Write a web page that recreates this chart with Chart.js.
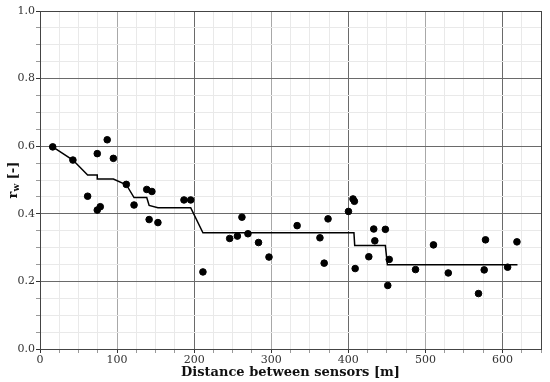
<!DOCTYPE html>
<html>
<head>
<meta charset="utf-8">
<script src="https://cdn.jsdelivr.net/npm/chart.js@4"></script>
<style>
html,body{margin:0;padding:0;background:#fff;}
#wrap{width:550px;height:382px;position:relative;}
</style>
</head>
<body>
<div id="wrap"><canvas id="c" width="550" height="382"></canvas></div>
<script>
// Measured points: distance between sensors [m] and r_w [-]
const distX = [16.5,42.7,61.8,74.3,74.3,78.2,87.2,95.2,112,122,138.5,141.6,145.2,153,186.8,195.5,211.4,246.1,256.1,262,269.8,283.5,297.1,333.6,363.2,368.7,373.7,400.2,406.1,407.9,408.9,426.6,433,434.4,448.1,453.1,451.2,487.2,510.5,529.7,568.9,578,576.3,606.7,618.8];
const rwValues = [0.598,0.559,0.452,0.578,0.411,0.421,0.619,0.564,0.487,0.426,0.472,0.383,0.466,0.374,0.441,0.441,0.228,0.327,0.334,0.390,0.341,0.315,0.272,0.365,0.329,0.254,0.385,0.407,0.444,0.437,0.238,0.273,0.355,0.320,0.354,0.265,0.188,0.235,0.308,0.225,0.164,0.323,0.234,0.242,0.317];
// Trend (step) line
const trendX = [16.5,42.7,61.8,74.3,74.3,95.2,112,122,138.5,141.6,153,195.5,211.4,407.3,408.3,448.1,450.7,619.5];
const trendY = [0.598,0.559,0.515,0.515,0.503,0.503,0.486,0.448,0.448,0.425,0.418,0.418,0.344,0.344,0.306,0.306,0.249,0.249];
const xTickLabels = [0,100,200,300,400,500,600];
const yTickLabels = [0.0,0.2,0.4,0.6,0.8,1.0];

const serif = "'DejaVu Serif', serif";
const near = (v, m) => Math.abs(v / m - Math.round(v / m)) < 1e-6;

const framePlugin = {
  id: 'frame',
  afterDraw(chart) {
    const {ctx, chartArea: a} = chart;
    ctx.save();
    ctx.strokeStyle = '#444';
    ctx.lineWidth = 1;
    ctx.strokeRect(Math.round(a.left) + 0.5, Math.round(a.top) + 0.5, Math.round(a.right - a.left), Math.round(a.bottom - a.top));
    // y axis title: r_w [-]
    ctx.translate(14, (a.top + a.bottom) / 2);
    ctx.rotate(-Math.PI / 2);
    ctx.fillStyle = '#111';
    ctx.textBaseline = 'middle';
    const f1 = "bold 13px " + serif, f2 = "bold 9px " + serif;
    ctx.font = f1; const wr = ctx.measureText('r').width; const wt = ctx.measureText(' [-]').width;
    ctx.font = f2; const ww = ctx.measureText('w').width;
    let x = -(wr + ww + wt) / 2;
    ctx.font = f1; ctx.fillText('r', x, 0); x += wr;
    ctx.font = f2; ctx.fillText('w', x, 3); x += ww;
    ctx.font = f1; ctx.fillText(' [-]', x, 0);
    ctx.restore();
  }
};

new Chart(document.getElementById('c'), {
  type: 'scatter',
  data: {
    datasets: [
      {
        type: 'line',
        data: trendX.map((x, i) => ({x, y: trendY[i]})),
        borderColor: '#000', borderWidth: 1.5, pointRadius: 0, tension: 0, fill: false, order: 1
      },
      {
        data: distX.map((x, i) => ({x, y: rwValues[i]})),
        backgroundColor: '#000', borderColor: '#000', pointRadius: 3.3, pointHoverRadius: 3.3, order: 0
      }
    ]
  },
  plugins: [framePlugin],
  options: {
    responsive: false, animation: false, devicePixelRatio: 1,
    layout: {padding: {top: 11, right: 9, left: 0, bottom: 0}},
    plugins: {legend: {display: false}, tooltip: {enabled: false}},
    scales: {
      x: {
        type: 'linear', min: 0, max: 650,
        afterBuildTicks(s) { const t = []; for (let v = 0; v <= 650; v += 25) t.push({value: v}); s.ticks = t; },
        ticks: {
          autoSkip: false, maxRotation: 0, padding: 1, color: '#333',
          font: {family: serif, size: 11},
          callback: v => (near(v, 100) ? String(v) : '')
        },
        grid: {
          color: c => { const v = c.tick ? c.tick.value : 0; return near(v, 200) ? '#6a6a6a' : near(v, 100) ? '#a8a8a8' : '#e9e9e9'; },
          tickColor: c => { const v = c.tick ? c.tick.value : 0; return near(v, 100) ? '#333' : '#999'; },
          tickLength: 4, lineWidth: 1
        },
        border: {display: true, color: '#444'},
        title: {display: true, text: 'Distance between sensors [m]', color: '#111', font: {family: serif, size: 13, weight: 'bold'}, padding: {top: 0, bottom: 2}},
        afterFit(s) { s.height = 33; }
      },
      y: {
        type: 'linear', min: 0, max: 1,
        afterBuildTicks(s) { const t = []; for (let i = 0; i <= 20; i++) t.push({value: i * 0.05}); s.ticks = t; },
        ticks: {
          autoSkip: false, padding: 1, color: '#333',
          font: {family: serif, size: 11},
          callback: v => (near(v, 0.2) ? v.toFixed(1) : '')
        },
        grid: {
          color: c => { const v = c.tick ? c.tick.value : 0; return near(v, 0.2) ? '#6a6a6a' : '#e9e9e9'; },
          tickColor: c => { const v = c.tick ? c.tick.value : 0; return near(v, 0.2) ? '#333' : '#999'; },
          tickLength: 4, lineWidth: 1
        },
        border: {display: true, color: '#444'},
        afterFit(s) { s.width = 40; }
      }
    }
  }
});
</script>
</body>
</html>
